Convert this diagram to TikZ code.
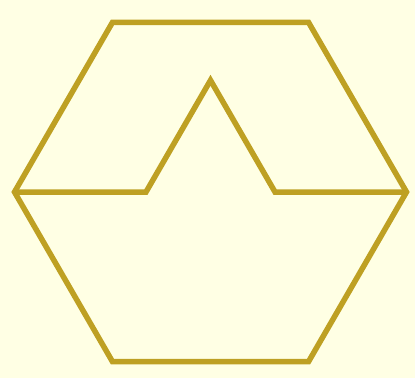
\documentclass[tikz,border=0pt]{standalone}
\usepackage{tikz}
\usetikzlibrary{calc}
\definecolor{hexgold}{RGB}{190,160,35}
\definecolor{hexbg}{RGB}{255,255,228}
\tikzset{
    hexline/.style={draw=hexgold, line width=5.5pt, miter limit=10, line join=miter},
    canvas/.style={fill=hexbg, draw=none}
}

\begin{document}
\begin{tikzpicture}[x=1pt, y=-1pt]
    \fill[canvas] (0,0) rectangle (415,378);
    \useasboundingbox (0,0) rectangle (415,378);
    % hexagon corners
    \coordinate (TL) at (112.5,22.3);
    \coordinate (TR) at (308.5,22.3);
    \coordinate (R)  at (406.5,192);
    \coordinate (BR) at (308.5,361.7);
    \coordinate (BL) at (112.5,361.7);
    \coordinate (L)  at (14.5,192);
    % inner notch
    \coordinate (NL) at (146,192);
    \coordinate (NT) at (210.5,80.3);
    \coordinate (NR) at (275,192);
    \draw[hexline] (TL) -- (TR) -- (R) -- (BR) -- (BL) -- (L) -- cycle;
    \draw[hexline] (L) -- (NL) -- (NT) -- (NR) -- (R);
\end{tikzpicture}
\end{document}
